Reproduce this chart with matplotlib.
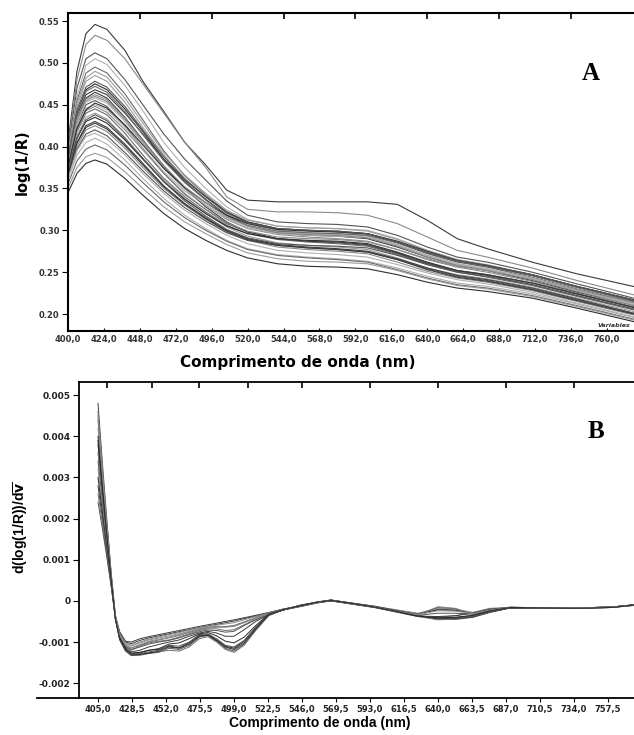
import matplotlib
matplotlib.use("Agg")
import matplotlib.pyplot as plt
from matplotlib.lines import Line2D
import numpy as np

# ---- panel A: log(1/R) spectra ----
wl_a = [400, 406, 412, 418, 426, 438, 450, 464, 478, 492, 506, 520,
        540, 560, 580, 600, 620, 640, 660, 680, 710, 740, 780]
spectra_a = [
    [0.405, 0.490, 0.535, 0.546, 0.540, 0.515, 0.478, 0.442, 0.405, 0.378, 0.348, 0.336, 0.334, 0.334, 0.334, 0.334, 0.331, 0.312, 0.290, 0.278, 0.262, 0.248, 0.232],
    [0.400, 0.480, 0.522, 0.533, 0.527, 0.505, 0.475, 0.440, 0.405, 0.375, 0.340, 0.325, 0.322, 0.322, 0.321, 0.318, 0.308, 0.292, 0.276, 0.268, 0.255, 0.240, 0.222],
    [0.395, 0.470, 0.505, 0.512, 0.505, 0.480, 0.450, 0.415, 0.385, 0.360, 0.335, 0.318, 0.310, 0.308, 0.307, 0.304, 0.294, 0.280, 0.268, 0.262, 0.250, 0.236, 0.218],
    [0.390, 0.460, 0.497, 0.505, 0.498, 0.473, 0.443, 0.405, 0.375, 0.350, 0.328, 0.313, 0.305, 0.303, 0.302, 0.300, 0.290, 0.276, 0.265, 0.258, 0.246, 0.232, 0.215],
    [0.390, 0.455, 0.488, 0.495, 0.488, 0.463, 0.432, 0.395, 0.365, 0.342, 0.322, 0.310, 0.302, 0.300, 0.298, 0.295, 0.285, 0.272, 0.262, 0.256, 0.244, 0.230, 0.213],
    [0.385, 0.448, 0.478, 0.485, 0.478, 0.453, 0.423, 0.390, 0.362, 0.340, 0.320, 0.308, 0.300, 0.297, 0.296, 0.293, 0.283, 0.270, 0.260, 0.254, 0.242, 0.228, 0.212],
    [0.380, 0.440, 0.468, 0.475, 0.468, 0.445, 0.418, 0.385, 0.358, 0.337, 0.318, 0.305, 0.297, 0.294, 0.293, 0.290, 0.280, 0.268, 0.258, 0.252, 0.240, 0.226, 0.210],
    [0.385, 0.437, 0.462, 0.468, 0.462, 0.440, 0.415, 0.385, 0.360, 0.340, 0.322, 0.310, 0.302, 0.300, 0.299, 0.296, 0.286, 0.273, 0.263, 0.257, 0.246, 0.232, 0.215],
    [0.380, 0.430, 0.455, 0.460, 0.454, 0.432, 0.405, 0.375, 0.350, 0.330, 0.313, 0.302, 0.295, 0.292, 0.290, 0.287, 0.277, 0.265, 0.256, 0.250, 0.239, 0.225, 0.208],
    [0.375, 0.425, 0.450, 0.455, 0.448, 0.425, 0.398, 0.368, 0.343, 0.325, 0.308, 0.298, 0.290, 0.287, 0.285, 0.282, 0.272, 0.260, 0.251, 0.246, 0.235, 0.222, 0.205],
    [0.380, 0.425, 0.446, 0.450, 0.444, 0.423, 0.398, 0.370, 0.347, 0.330, 0.315, 0.305, 0.298, 0.296, 0.295, 0.292, 0.282, 0.270, 0.260, 0.254, 0.243, 0.229, 0.212],
    [0.375, 0.418, 0.440, 0.445, 0.438, 0.416, 0.390, 0.362, 0.340, 0.322, 0.306, 0.296, 0.289, 0.286, 0.284, 0.281, 0.271, 0.259, 0.250, 0.244, 0.234, 0.221, 0.204],
    [0.370, 0.413, 0.435, 0.440, 0.433, 0.411, 0.386, 0.360, 0.338, 0.320, 0.304, 0.293, 0.285, 0.282, 0.280, 0.277, 0.267, 0.255, 0.247, 0.242, 0.232, 0.219, 0.202],
    [0.375, 0.410, 0.430, 0.435, 0.428, 0.408, 0.385, 0.358, 0.337, 0.320, 0.305, 0.296, 0.290, 0.288, 0.287, 0.284, 0.274, 0.262, 0.252, 0.247, 0.237, 0.224, 0.207],
    [0.370, 0.405, 0.425, 0.430, 0.423, 0.403, 0.380, 0.353, 0.332, 0.315, 0.300, 0.290, 0.283, 0.280, 0.278, 0.275, 0.266, 0.255, 0.246, 0.241, 0.231, 0.218, 0.200],
    [0.365, 0.400, 0.420, 0.425, 0.418, 0.398, 0.375, 0.350, 0.330, 0.313, 0.298, 0.288, 0.280, 0.277, 0.275, 0.272, 0.262, 0.251, 0.243, 0.238, 0.228, 0.215, 0.198],
    [0.365, 0.397, 0.415, 0.420, 0.413, 0.393, 0.371, 0.347, 0.327, 0.311, 0.297, 0.288, 0.282, 0.279, 0.277, 0.274, 0.265, 0.254, 0.245, 0.240, 0.230, 0.217, 0.200],
    [0.360, 0.390, 0.405, 0.410, 0.403, 0.384, 0.362, 0.338, 0.318, 0.302, 0.288, 0.278, 0.271, 0.268, 0.266, 0.263, 0.255, 0.245, 0.237, 0.233, 0.224, 0.212, 0.195],
    [0.355, 0.383, 0.397, 0.402, 0.396, 0.378, 0.357, 0.334, 0.315, 0.300, 0.287, 0.277, 0.270, 0.267, 0.265, 0.262, 0.253, 0.243, 0.235, 0.231, 0.222, 0.210, 0.193],
    [0.350, 0.375, 0.388, 0.392, 0.387, 0.370, 0.350, 0.328, 0.310, 0.296, 0.283, 0.273, 0.266, 0.263, 0.262, 0.260, 0.252, 0.242, 0.234, 0.230, 0.221, 0.209, 0.192],
    [0.345, 0.368, 0.380, 0.384, 0.379, 0.362, 0.342, 0.320, 0.302, 0.288, 0.276, 0.267, 0.260, 0.257, 0.256, 0.254, 0.247, 0.238, 0.231, 0.227, 0.219, 0.207, 0.190],
    [0.378, 0.432, 0.458, 0.465, 0.458, 0.435, 0.408, 0.377, 0.350, 0.328, 0.310, 0.298, 0.290, 0.287, 0.286, 0.283, 0.273, 0.261, 0.252, 0.247, 0.237, 0.224, 0.207],
    [0.372, 0.420, 0.443, 0.448, 0.441, 0.420, 0.396, 0.368, 0.344, 0.325, 0.309, 0.299, 0.292, 0.290, 0.289, 0.286, 0.277, 0.266, 0.257, 0.252, 0.242, 0.229, 0.213],
    [0.368, 0.410, 0.432, 0.438, 0.431, 0.410, 0.386, 0.358, 0.335, 0.317, 0.301, 0.291, 0.284, 0.282, 0.281, 0.279, 0.270, 0.259, 0.250, 0.245, 0.235, 0.222, 0.205],
    [0.382, 0.430, 0.453, 0.458, 0.452, 0.430, 0.404, 0.374, 0.349, 0.330, 0.314, 0.303, 0.296, 0.294, 0.293, 0.291, 0.282, 0.270, 0.259, 0.253, 0.242, 0.228, 0.210],
    [0.388, 0.440, 0.466, 0.472, 0.465, 0.442, 0.414, 0.383, 0.357, 0.336, 0.318, 0.306, 0.299, 0.297, 0.296, 0.294, 0.285, 0.273, 0.263, 0.257, 0.246, 0.232, 0.214],
    [0.392, 0.452, 0.482, 0.490, 0.483, 0.458, 0.428, 0.393, 0.366, 0.344, 0.324, 0.312, 0.305, 0.303, 0.302, 0.299, 0.289, 0.276, 0.265, 0.259, 0.247, 0.233, 0.216],
    [0.376, 0.422, 0.444, 0.452, 0.446, 0.426, 0.402, 0.374, 0.351, 0.333, 0.318, 0.308, 0.301, 0.299, 0.298, 0.296, 0.287, 0.275, 0.264, 0.258, 0.247, 0.233, 0.216],
    [0.366, 0.404, 0.423, 0.428, 0.421, 0.401, 0.378, 0.352, 0.331, 0.314, 0.299, 0.289, 0.282, 0.279, 0.277, 0.274, 0.265, 0.253, 0.244, 0.239, 0.229, 0.216, 0.199],
    [0.383, 0.433, 0.457, 0.462, 0.456, 0.434, 0.407, 0.377, 0.352, 0.333, 0.316, 0.305, 0.297, 0.295, 0.294, 0.291, 0.281, 0.268, 0.258, 0.252, 0.241, 0.227, 0.209],
    [0.386, 0.444, 0.471, 0.478, 0.471, 0.448, 0.420, 0.388, 0.361, 0.340, 0.321, 0.309, 0.302, 0.300, 0.299, 0.296, 0.286, 0.274, 0.264, 0.258, 0.247, 0.233, 0.216],
    [0.362, 0.395, 0.412, 0.416, 0.409, 0.390, 0.368, 0.344, 0.324, 0.308, 0.294, 0.284, 0.276, 0.273, 0.271, 0.268, 0.259, 0.249, 0.241, 0.236, 0.226, 0.213, 0.196],
]
ticks_a = [400, 424, 448, 472, 496, 520, 544, 568, 592, 616, 640, 664, 688, 712, 736, 760]
top_ticks_a = [448, 496, 544, 592, 640, 688, 736]
yticks_a = [0.20, 0.25, 0.30, 0.35, 0.40, 0.45, 0.50, 0.55]

# ---- panel B: first derivative (x 1e-3) ----
wl_b = [405, 408, 411, 414, 417, 420, 424, 428, 434, 440, 447, 454, 461, 468,
        475, 481, 487, 493, 499, 506, 514, 523, 533, 545, 557, 566, 580, 596,
        612, 626, 640, 652, 664, 676, 690, 710, 735, 760, 776]
deriv_b = [
    [4.80, 3.36, 2.02, 0.72, -0.35, -0.75, -0.98, -1.00, -0.92, -0.87, -0.82, -0.77, -0.72, -0.67, -0.62, -0.58, -0.54, -0.50, -0.46, -0.41, -0.35, -0.28, -0.20, -0.12, -0.03, 0.02, -0.06, -0.14, -0.24, -0.32, -0.20, -0.22, -0.30, -0.22, -0.17, -0.18, -0.17, -0.15, -0.10],
    [4.60, 3.22, 1.93, 0.69, -0.40, -0.85, -1.12, -1.20, -1.10, -1.02, -0.98, -0.95, -0.88, -0.80, -0.72, -0.68, -0.68, -0.72, -0.70, -0.58, -0.45, -0.32, -0.22, -0.14, -0.05, 0.00, -0.08, -0.16, -0.28, -0.38, -0.40, -0.36, -0.28, -0.18, -0.16, -0.18, -0.18, -0.16, -0.10],
    [4.40, 3.08, 1.85, 0.66, -0.45, -0.95, -1.22, -1.33, -1.32, -1.28, -1.25, -1.15, -1.18, -1.08, -0.88, -0.84, -0.98, -1.15, -1.22, -1.05, -0.70, -0.35, -0.22, -0.10, -0.02, 0.02, -0.05, -0.13, -0.24, -0.36, -0.44, -0.45, -0.40, -0.28, -0.17, -0.17, -0.18, -0.15, -0.09],
    [4.20, 2.95, 1.78, 0.62, -0.38, -0.80, -1.05, -1.10, -1.02, -0.95, -0.90, -0.85, -0.80, -0.74, -0.68, -0.64, -0.62, -0.62, -0.60, -0.52, -0.42, -0.30, -0.21, -0.13, -0.04, 0.01, -0.07, -0.15, -0.26, -0.34, -0.14, -0.18, -0.33, -0.24, -0.15, -0.17, -0.18, -0.16, -0.11],
    [4.00, 2.80, 1.70, 0.58, -0.42, -0.90, -1.18, -1.28, -1.26, -1.20, -1.18, -1.10, -1.14, -1.02, -0.84, -0.82, -0.95, -1.10, -1.15, -0.98, -0.65, -0.33, -0.21, -0.11, -0.03, 0.02, -0.06, -0.14, -0.25, -0.37, -0.42, -0.40, -0.36, -0.26, -0.16, -0.17, -0.17, -0.15, -0.10],
    [3.80, 2.66, 1.60, 0.55, -0.37, -0.78, -1.00, -1.04, -0.96, -0.90, -0.85, -0.80, -0.75, -0.70, -0.65, -0.61, -0.57, -0.53, -0.49, -0.43, -0.37, -0.29, -0.20, -0.12, -0.03, 0.02, -0.06, -0.14, -0.23, -0.31, -0.22, -0.23, -0.30, -0.22, -0.17, -0.18, -0.17, -0.15, -0.10],
    [3.60, 2.52, 1.52, 0.52, -0.44, -0.92, -1.20, -1.30, -1.29, -1.26, -1.24, -1.20, -1.22, -1.12, -0.92, -0.87, -1.00, -1.18, -1.25, -1.08, -0.72, -0.36, -0.22, -0.12, -0.04, 0.00, -0.07, -0.15, -0.27, -0.38, -0.46, -0.44, -0.38, -0.26, -0.17, -0.18, -0.18, -0.16, -0.10],
    [3.40, 2.40, 1.45, 0.50, -0.40, -0.86, -1.10, -1.18, -1.12, -1.05, -1.00, -0.96, -0.90, -0.82, -0.75, -0.71, -0.72, -0.76, -0.74, -0.60, -0.46, -0.32, -0.22, -0.13, -0.04, 0.01, -0.07, -0.15, -0.26, -0.35, -0.30, -0.30, -0.32, -0.22, -0.16, -0.17, -0.17, -0.15, -0.10],
    [3.20, 2.28, 1.38, 0.48, -0.36, -0.80, -1.02, -1.08, -1.00, -0.93, -0.88, -0.82, -0.77, -0.71, -0.66, -0.62, -0.59, -0.56, -0.53, -0.46, -0.38, -0.29, -0.20, -0.12, -0.03, 0.02, -0.05, -0.13, -0.22, -0.30, -0.18, -0.20, -0.28, -0.21, -0.16, -0.17, -0.17, -0.15, -0.10],
    [3.00, 2.15, 1.30, 0.45, -0.43, -0.93, -1.20, -1.31, -1.30, -1.27, -1.22, -1.12, -1.15, -1.05, -0.86, -0.83, -0.96, -1.12, -1.18, -1.02, -0.68, -0.34, -0.22, -0.11, -0.03, 0.01, -0.06, -0.14, -0.25, -0.36, -0.43, -0.43, -0.39, -0.27, -0.17, -0.17, -0.18, -0.15, -0.09],
    [2.80, 2.02, 1.22, 0.42, -0.40, -0.88, -1.14, -1.24, -1.20, -1.12, -1.06, -1.00, -0.95, -0.86, -0.78, -0.74, -0.78, -0.86, -0.86, -0.70, -0.50, -0.33, -0.22, -0.13, -0.04, 0.00, -0.07, -0.16, -0.27, -0.37, -0.38, -0.36, -0.30, -0.20, -0.16, -0.18, -0.18, -0.16, -0.10],
    [2.60, 1.90, 1.15, 0.40, -0.38, -0.84, -1.08, -1.15, -1.08, -1.00, -0.95, -0.90, -0.84, -0.77, -0.70, -0.66, -0.64, -0.63, -0.60, -0.51, -0.41, -0.30, -0.21, -0.12, -0.03, 0.01, -0.06, -0.14, -0.24, -0.33, -0.16, -0.19, -0.32, -0.23, -0.15, -0.17, -0.18, -0.16, -0.11],
    [2.40, 1.76, 1.08, 0.38, -0.42, -0.92, -1.20, -1.30, -1.28, -1.24, -1.20, -1.08, -1.10, -1.00, -0.82, -0.80, -0.92, -1.08, -1.12, -0.96, -0.64, -0.33, -0.21, -0.11, -0.03, 0.02, -0.05, -0.13, -0.24, -0.35, -0.42, -0.42, -0.38, -0.27, -0.17, -0.17, -0.17, -0.15, -0.09],
    [4.50, 3.15, 1.90, 0.68, -0.39, -0.83, -1.08, -1.14, -1.06, -0.98, -0.93, -0.88, -0.82, -0.75, -0.69, -0.65, -0.63, -0.64, -0.62, -0.53, -0.43, -0.31, -0.21, -0.13, -0.04, 0.01, -0.07, -0.15, -0.26, -0.34, -0.24, -0.25, -0.31, -0.22, -0.16, -0.17, -0.17, -0.15, -0.10],
    [3.90, 2.73, 1.64, 0.56, -0.43, -0.91, -1.17, -1.27, -1.25, -1.20, -1.16, -1.05, -1.02, -0.92, -0.80, -0.77, -0.85, -0.98, -1.02, -0.88, -0.60, -0.32, -0.21, -0.12, -0.03, 0.01, -0.06, -0.15, -0.26, -0.37, -0.41, -0.40, -0.35, -0.24, -0.16, -0.17, -0.18, -0.16, -0.10],
]
ticks_b = [405.0, 428.5, 452.0, 475.5, 499.0, 522.5, 546.0, 569.5, 593.0, 616.5,
           640.0, 663.5, 687.0, 710.5, 734.0, 757.5]
top_ticks_b = [411, 442, 475, 509, 546, 593, 640, 687, 734]
yticks_b = [-0.002, -0.001, 0, 0.001, 0.002, 0.003, 0.004, 0.005]
ylabels_b = ["-0.002", "-0.001", "0", "0.001", "0.002", "0.003", "0.004", "0.005"]

greys_a = ["#3a3a3a", "#8a8a8a", "#555555", "#b0b0b0", "#6a6a6a", "#9c9c9c", "#2e2e2e"]
greys_b = ["#3c3c3c", "#6e6e6e", "#555555", "#8c8c8c", "#2a2a2a"]

W, H = 634, 735
fig = plt.figure(figsize=(W / 100, H / 100), dpi=100)

# --- A ---
axA = fig.add_axes([68 / W, 1 - 331 / H, (645 - 68) / W, (331 - 13) / H])
for i, s in enumerate(spectra_a):
    axA.plot(wl_a, s, color=greys_a[i % len(greys_a)], lw=0.8)
axA.set_xlim(400, 400 + 577 / 1.497)
axA.set_ylim(0.1797, 0.5596)
axA.set_xticks(ticks_a)
axA.set_xticklabels([f"{t:.1f}".replace(".", ",") for t in ticks_a])
axA.set_yticks(yticks_a)
axA.set_yticklabels([f"{t:.2f}" for t in yticks_a])
axA.tick_params(axis="x", direction="in", length=2, labelsize=6, pad=3, labelcolor="#333333")
axA.tick_params(axis="y", direction="out", length=4, labelsize=6, pad=2, labelcolor="#333333")
for lab in axA.get_xticklabels() + axA.get_yticklabels():
    lab.set_fontweight("bold")
axA.spines["right"].set_visible(False)
for sp in ["left", "bottom", "top"]:
    axA.spines[sp].set_linewidth(1.5)
sec = axA.secondary_xaxis("top")
sec.set_xticks(top_ticks_a)
sec.set_xticklabels([])
sec.tick_params(direction="in", length=4, width=1.2)
sec.spines["top"].set_visible(False)

fig.text(298 / W, 1 - 362 / H, "Comprimento de onda (nm)", ha="center", va="center",
         fontsize=11, fontweight="bold")
fig.text(22 / W, 1 - 162 / H, "log(1/R)", rotation=90, ha="center", va="center",
         fontsize=10.5, fontweight="bold")
fig.text(591 / W, 1 - 73 / H, "A", ha="center", va="center", fontsize=18,
         fontweight="bold", family="Liberation Serif")
fig.text(598 / W, 1 - 327 / H, "Variables", ha="left", va="baseline", fontsize=4.5,
         fontstyle="italic", fontweight="bold", color="#333333")

# --- B ---
axB = fig.add_axes([79 / W, 1 - 698 / H, (645 - 79) / W, (698 - 382) / H])
for i, d in enumerate(deriv_b):
    axB.plot(wl_b, np.array(d) * 1e-3, color=greys_b[i % len(greys_b)], lw=0.7)
axB.set_xlim(405 - 19 / 1.447, 405 - 19 / 1.447 + 566 / 1.447)
axB.set_ylim(-0.00236, 0.00532)
axB.set_xticks(ticks_b)
axB.set_xticklabels([f"{t:.1f}".replace(".", ",") for t in ticks_b])
axB.set_yticks(yticks_b)
axB.set_yticklabels(ylabels_b)
axB.tick_params(axis="x", direction="out", length=3, labelsize=6, pad=2, labelcolor="#222222")
axB.tick_params(axis="y", direction="out", length=4, labelsize=6.5, pad=2, labelcolor="#222222")
for lab in axB.get_xticklabels() + axB.get_yticklabels():
    lab.set_fontweight("bold")
axB.spines["right"].set_visible(False)
for sp in ["left", "bottom", "top"]:
    axB.spines[sp].set_linewidth(1.3)
secB = axB.secondary_xaxis("top")
secB.set_xticks(top_ticks_b)
secB.set_xticklabels([])
secB.tick_params(direction="in", length=4, width=1.2)
secB.spines["top"].set_visible(False)
fig.add_artist(Line2D([37 / W, 79 / W], [1 - 698 / H, 1 - 698 / H], color="black", lw=1.3))

fig.text(320 / W, 1 - 723 / H, "Comprimento de onda (nm)", ha="center", va="center",
         fontsize=10, fontweight="bold", family="Liberation Sans")
fig.text(21 / W, 1 - 528 / H, r"d(log(1/R))/d$\overline{\mathbf{v}}$", rotation=90,
         ha="center", va="center", fontsize=10, fontweight="bold", family="Liberation Sans")
fig.text(596 / W, 1 - 431 / H, "B", ha="center", va="center", fontsize=18,
         fontweight="bold", family="Liberation Serif")

fig.savefig("out.png", dpi=100)
